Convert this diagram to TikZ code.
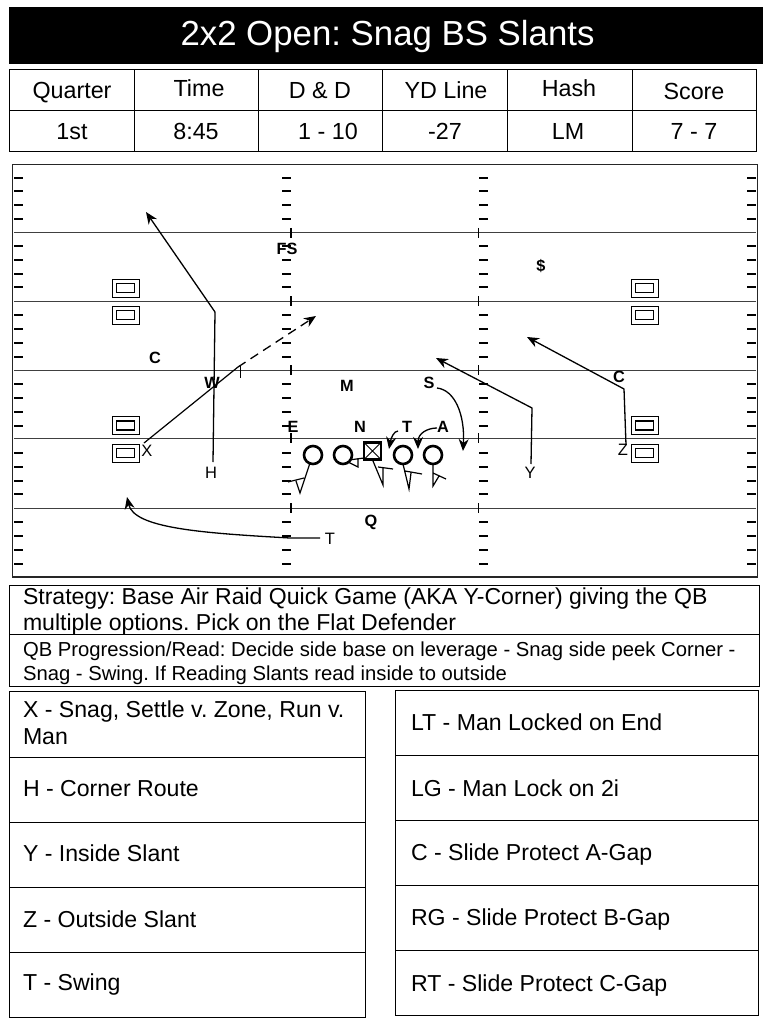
\documentclass[tikz,border=0pt]{standalone}
\usepackage{fontspec}
\setmainfont{Liberation Sans}
\usetikzlibrary{arrows.meta}
\tikzset{
  every node/.style = {inner sep=0pt, outer sep=0pt},
  yardline/.style = {black!75, line width=1pt},
  hashmark/.style = {line width=1.2pt},
  player/.style = {circle, draw, line width=2.6pt, minimum size=18pt},
  center/.style = {rectangle, draw, line width=2.8pt, minimum size=17pt},
  wrbox/.style = {rectangle, draw, line width=1pt, minimum width=27pt, minimum height=18pt},
  wrinner/.style = {rectangle, draw, line width=1.4pt, minimum width=18pt, minimum height=9pt},
  route/.style = {line width=1.3pt, -{Stealth[length=12pt,width=10pt]}},
  block/.style = {line width=1.2pt},
  man/.style = {text height=11.7pt, text depth=0pt, font=\fontsize{16.5}{19}\selectfont},
  defman/.style = {text height=11.6pt, text depth=0pt, font=\fontsize{16.3}{19}\bfseries\selectfont},
  headcell/.style = {text height=16.7pt, text depth=0pt, font=\fontsize{23.3}{26}\selectfont},
  note/.style = {anchor=west, text height=16.6pt, text depth=0pt, font=\fontsize{23.1}{26}\selectfont},
  bignote/.style = {anchor=west, text height=16.6pt, text depth=0pt, font=\fontsize{23.05}{25}\selectfont},
  smallnote/.style = {anchor=west, text height=14.6pt, text depth=0pt, font=\fontsize{20.25}{24}\selectfont},
  panel/.style = {draw, line width=1pt},
}
\begin{document}
\frenchspacing
\begin{tikzpicture}[x=1pt,y=-1pt]
  \useasboundingbox (0,0) rectangle (768,1024);

  \fill (9,7) rectangle (763,64);
  \node[text=white, text height=25pt, text depth=0pt, font=\fontsize{34.8}{36}\selectfont] (title) at (387.5,33) {2x2 Open: Snag BS Slants};

  \draw[panel] (9,70) rectangle (756,152);
  \draw[panel] (9,110.5) -- (756,110.5);
  \foreach \colx in {134,258,382,507,632}
    \draw[panel] (\colx,70) -- (\colx,152);
  \foreach \cname/\cx/\cy/\ctext in {quarter/72/90/Quarter, time/199/88/Time, dd/320/90/D \& D, ydline/446/90/YD Line, hash/569/88/Hash, score/694/91/Score,
      qval/72/131/1st, tval/196/131/8:45, dval/328/131/1 - 10, yval/445/131/-27, hval/568/131/LM, sval/694/131/7 - 7}
    \node[headcell] (\cname) at (\cx,\cy) {\ctext};

  \draw[black!85, line width=1.3pt] (12.5,164.5) rectangle (757.5,577);
  \foreach \liney in {233,301,370,438,508} {
    \draw[yardline] (14,\liney) -- (756,\liney);
    \draw[hashmark] (291,\liney-5) -- (291,\liney+5);
    \draw[hashmark] (478.5,\liney-5) -- (478.5,\liney+5);
  }
  \foreach \ticky in {178,191,205,219,246,260,274,287,315,329,343,357,384,398,412,426,453,467,481,494,522,536,550,564} {
    \draw[hashmark] (14,\ticky) -- (23,\ticky);
    \draw[hashmark] (282,\ticky) -- (291,\ticky);
    \draw[hashmark] (479,\ticky) -- (488,\ticky);
    \draw[hashmark] (747,\ticky) -- (756,\ticky);
  }

  \foreach \boxx/\tag in {125.5/l,644.5/r}
    \foreach \boxy/\num in {288/1,315/2,425.5/3,453/4} {
      \node[wrbox] (wr\tag\num) at (\boxx,\boxy) {};
      \node[wrinner] (in\tag\num) at (\boxx,\boxy) {};
    }

  \node[defman] (fs) at (287,249) {FS};
  \node[defman] (money) at (541,266) {\$};
  \node[defman] (cl) at (155,358) {C};
  \node[defman] (w) at (212,383) {W};
  \node[defman] (m) at (347,386) {M};
  \node[defman] (s) at (429,383) {S};
  \node[defman] (cr) at (619,377) {C};
  \node[defman] (n) at (360,427) {N};
  \node[defman] (t) at (407,427) {T};
  \node[defman] (a) at (443,427) {A};
  \node[defman] (e) at (293,427) {E};
  \node[man] (x) at (147,451) {X};
  \node[man] (h) at (211,473) {H};
  \node[man] (y) at (530,473) {Y};
  \node[man] (z) at (623,450) {Z};
  \node[defman] (q) at (371,521) {Q};
  \node[man] (tb) at (330,539) {T};

  \node[player] (lt) at (313,455) {};
  \node[player] (lg) at (343,455) {};
  \node[center] (ce) at (372.5,451) {};
  \node[player] (rg) at (403,455) {};
  \node[player] (rt) at (433,455) {};
  \draw[line width=.9pt] (ce.north west) -- (ce.south east) (ce.north east) -- (ce.south west);

  \coordinate (hs) at (213,462);
  \coordinate (hb) at (215,312);
  \coordinate (ht) at (146,212);
  \draw[route, rounded corners=.5pt] (hs) -- (hb) -- (ht);

  \coordinate (xs) at (144,443);
  \coordinate (xb) at (238,367);
  \coordinate (xt) at (316,316);
  \coordinate (xa) at (240,365);
  \coordinate (xc) at (240,378);
  \draw[line width=1.2pt] (xs) -- (xb);
  \draw[line width=1pt] (xa) -- (xc);
  \draw[route, dashed, dash pattern=on 9pt off 6pt] (xb) -- (xt);

  \coordinate (ys) at (531,464);
  \coordinate (yb) at (532,408);
  \coordinate (yt) at (436,358);
  \draw[route] (ys) -- (yb) -- (yt);

  \coordinate (zs) at (626,445);
  \coordinate (zb) at (624,389);
  \coordinate (zt) at (527,337);
  \draw[route] (zs) -- (zb) -- (zt);

  \coordinate (ts) at (320,538);
  \coordinate (tm) at (290,538);
  \coordinate (te) at (127,497);
  \draw[route] (ts) -- (tm) .. controls (200,533) and (134,528) .. (te);

  \coordinate (ss) at (437,388);
  \coordinate (se) at (463,451);
  \draw[route] (ss) .. controls (455,390) and (465,415) .. (se);

  \coordinate (ts2) at (398,431);
  \coordinate (te2) at (389,449);
  \draw[route] (ts2) .. controls (394,431) and (391,438) .. (te2);

  \coordinate (as) at (437,428);
  \coordinate (ae) at (418,449);
  \draw[route] (as) .. controls (428,428) and (418,433) .. (ae);

  \coordinate (ltb) at (300,493);
  \coordinate (ltc) at (296,481);
  \coordinate (ltl) at (288,482);
  \coordinate (ltr) at (304,478);
  \draw[block] (lt) ++(-3,8) -- (ltb) -- (ltc) (ltl) -- (ltr);

  \coordinate (lgb) at (358,467);
  \coordinate (lgc) at (358,458);
  \coordinate (lgl) at (348,462);
  \draw[block] (lgl) -- (lgb) -- (lgc) (lg) ++(6,5) -- (ce.west |- lgc);

  \coordinate (ceb) at (383,485);
  \coordinate (cec) at (383,468);
  \coordinate (cel) at (378,467);
  \coordinate (cer) at (393,469);
  \coordinate (ces) at (373,461);
  \draw[block] (ces) -- (ceb) -- (cec) (cel) -- (cer);

  \coordinate (rgs) at (403,464);
  \coordinate (rgb) at (409,489);
  \coordinate (rgc) at (411,473);
  \coordinate (rgl) at (405,471);
  \coordinate (rgr) at (422,474);
  \draw[block] (rgs) -- (rgb) -- (rgc) (rgl) -- (rgr);

  \coordinate (rts) at (433,464);
  \coordinate (rtb) at (433,486);
  \coordinate (rtc) at (439,476);
  \coordinate (rtl) at (433,473);
  \coordinate (rtr) at (446,479);
  \draw[block] (rts) -- (rtb) -- (rtc) (rtl) -- (rtr);

  \draw[panel] (9,585) rectangle (759,686);
  \draw[panel] (9,634.5) -- (759,634.5);
  \node[bignote] (strat1) at (23,596) {Strategy: Base Air Raid Quick Game (AKA Y-Corner) giving the QB};
  \node[bignote] (strat2) at (23,622) {multiple options. Pick on the Flat Defender};
  \node[smallnote] (prog1) at (23,649) {QB Progression/Read: Decide side base on leverage - Snag side peek Corner -};
  \node[smallnote] (prog2) at (23,673) {Snag - Swing. If Reading Slants read inside to outside};

  \draw[panel] (9,691) rectangle (365,1017);
  \foreach \rowy in {757,822,887,952}
    \draw[panel] (9,\rowy) -- (365,\rowy);
  \draw[panel] (395,690) rectangle (758,1015);
  \foreach \rowy in {755,820,885,950}
    \draw[panel] (395,\rowy) -- (758,\rowy);

  \foreach \nname/\nx/\ny/\ntext in {xa1/23/709/{X - Snag, Settle v. Zone, Run v.}, xa2/23/736/Man, ha/23/788/H - Corner Route, ya/23/853/Y - Inside Slant, za/23/919/Z - Outside Slant, ta/23/982/T - Swing,
      lta/411/722/LT - Man Locked on End, lga/411/788/LG - Man Lock on 2i, ca/411/852/C - Slide Protect A-Gap, rga/411/917/RG - Slide Protect B-Gap, rta/411/983/RT - Slide Protect C-Gap}
    \node[note] (\nname) at (\nx,\ny) {\ntext};
\end{tikzpicture}
\end{document}
